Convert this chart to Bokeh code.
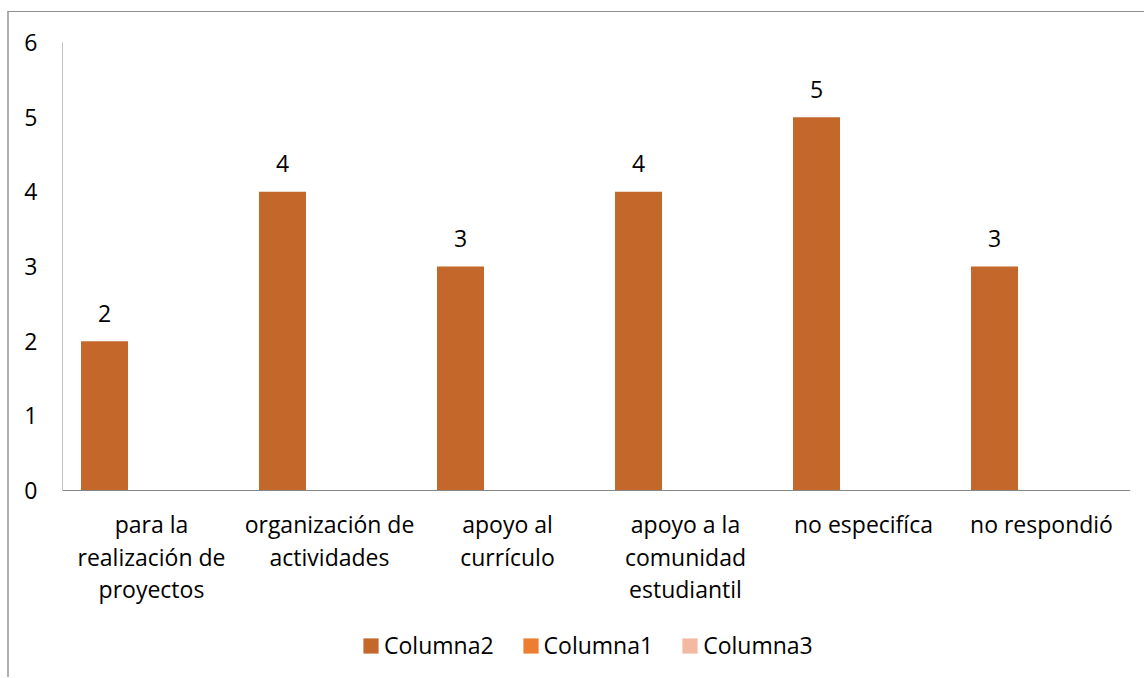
from bokeh.plotting import figure
from bokeh.models import ColumnDataSource, FactorRange, FixedTicker, Legend, LegendItem, Range1d
from bokeh.transform import dodge
from bokeh.core.properties import value
from bokeh.embed import file_html
from bokeh.resources import INLINE

categories = [
    "para la\nrealización de\nproyectos",
    "organización de\nactividades",
    "apoyo al\ncurrículo",
    "apoyo a la\ncomunidad\nestudiantil",
    "no especifíca",
    "no respondió",
]
columna2 = [2, 4, 3, 4, 5, 3]
columna1 = [0, 0, 0, 0, 0, 0]
columna3 = [0, 0, 0, 0, 0, 0]
series_names = ["Columna2", "Columna1", "Columna3"]
y_ticks = [0, 1, 2, 3, 4, 5, 6]

FONT = "Open Sans"
FS = "23px"
colors = ["#C4672B", "#ED7D31", "#F4B9A2"]

src = ColumnDataSource(dict(
    cat=categories, c2=columna2, c1=columna1, c3=columna3,
    lbl=[str(v) for v in columna2],
))

# the frame reaches below the axis so that the legend can sit under the labels
p = figure(
    x_range=FactorRange(*categories), y_range=Range1d(-2.49, 6),
    width=1137, height=666, output_backend="svg", toolbar_location=None,
    min_border_left=53, min_border_top=30, min_border_right=16, min_border_bottom=2,
)
p.margin = (11, 0, 0, 7)
p.styles = {"border-top": "1px solid #8f8f8f", "border-left": "2px solid #b0b0b0"}

bw = 0.264
offs = [-bw, 0.0, bw]
renderers = []
for name, col, off, c in zip(series_names, ["c2", "c1", "c3"], offs, colors):
    r = p.vbar(x=dodge("cat", off, range=p.x_range), top=col, width=bw, source=src,
               fill_color=c, line_color=None)
    renderers.append((name, r))

p.text(x=dodge("cat", offs[0], range=p.x_range), y="c2", text="lbl", source=src,
       text_align="center", text_baseline="alphabetic", y_offset=-28,
       text_font=value(FONT), text_font_size=FS, text_color="#000000")

p.xgrid.visible = False
p.ygrid.visible = False
p.outline_line_color = None

p.yaxis.ticker = FixedTicker(ticks=y_ticks)
p.yaxis.bounds = (0, 6)
p.yaxis.major_tick_line_color = None
p.yaxis.minor_tick_line_color = None
p.yaxis.axis_line_color = "#BFBFBF"
p.yaxis.major_label_standoff = 19
p.yaxis.major_label_text_font = FONT
p.yaxis.major_label_text_font_size = FS
p.yaxis.major_label_text_color = "#000000"

p.xaxis.fixed_location = 0
p.xaxis.major_tick_line_color = None
p.xaxis.minor_tick_line_color = None
p.xaxis.axis_line_color = "#868686"
p.xaxis.major_label_standoff = 11
p.xaxis.major_label_text_line_height = 1.03
p.xaxis.major_label_text_font = FONT
p.xaxis.major_label_text_font_size = FS
p.xaxis.major_label_text_color = "#000000"

legend = Legend(
    items=[LegendItem(label=n, renderers=[r]) for n, r in renderers],
    orientation="horizontal", location=(299, 15),
    glyph_width=19, glyph_height=19, label_standoff=4, spacing=27,
    padding=0, margin=0, border_line_color=None, background_fill_alpha=0,
    label_text_font=FONT, label_text_font_size=FS, label_text_color="#000000",
)
p.add_layout(legend, "center")

open("out.html", "w").write(file_html(p, INLINE))
